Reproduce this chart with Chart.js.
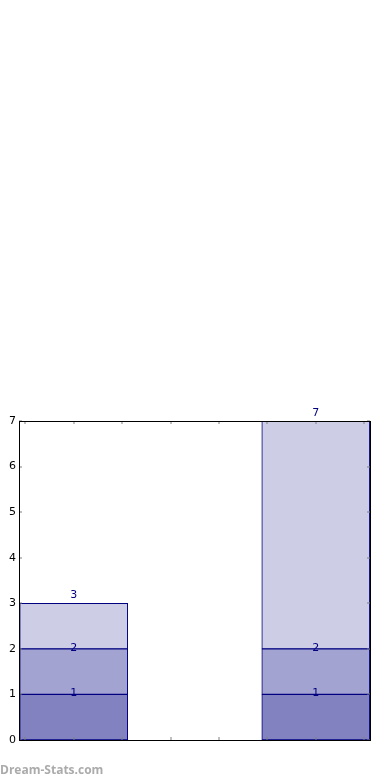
<!DOCTYPE html>
<html>
<head>
<meta charset="utf-8">
<script src="https://cdn.jsdelivr.net/npm/chart.js@4/dist/chart.umd.min.js"></script>
<style>
  html, body { margin: 0; padding: 0; background: #ffffff; }
  #wrap { position: relative; width: 390px; height: 780px; }
  #mark { position: absolute; left: 0; top: 761px; font: bold 12px "Open Sans", "DejaVu Sans", sans-serif; color: #ababab; }
</style>
</head>
<body>
<div id="wrap">
  <canvas id="c" width="390" height="780"></canvas>
  <div id="mark">Dream-Stats.com</div>
</div>
<script>
// Data
const barPositions = [0, 5];
const segmentBottom = [1, 1];
const segmentMiddle = [1, 1];
const segmentTop = [1, 5];
const yTickValues = [0, 1, 2, 3, 4, 5, 6, 7];

const segColors = ['#8282c1', '#a3a3d1', '#cdcde5'];
const segments = [segmentBottom, segmentMiddle, segmentTop];

const datasets = segments.map((seg, i) => ({
  label: 'seg' + i,
  data: barPositions.map((x, j) => ({ x: x, y: seg[j] })),
  backgroundColor: segColors[i],
  borderColor: '#000080',
  borderWidth: 1,
  borderSkipped: false,
  barThickness: 108
}));

const decorPlugin = {
  id: 'decor',
  afterDatasetsDraw(chart) {
    const ctx = chart.ctx;
    const a = chart.chartArea;
    const xs = chart.scales.x, ys = chart.scales.y;
    // value labels (cumulative)
    ctx.save();
    ctx.font = '11px "DejaVu Sans"';
    ctx.fillStyle = '#000080';
    ctx.textAlign = 'center';
    ctx.textBaseline = 'alphabetic';
    const last = chart.data.datasets.length - 1;
    chart.data.datasets.forEach((ds, di) => {
      const meta = chart.getDatasetMeta(di);
      meta.data.forEach((el, j) => {
        let cum = 0;
        for (let k = 0; k <= di; k++) cum += segments[k][j];
        const y = ys.getPixelForValue(cum);
        const ty = di === last ? y - 5 : y + 2;
        ctx.fillText(String(cum), el.x, ty);
      });
    });
    ctx.restore();
    // inward tick marks
    ctx.save();
    ctx.strokeStyle = 'rgba(128,128,128,0.5)';
    ctx.lineWidth = 2;
    ctx.beginPath();
    xs.ticks.forEach(t => {
      const px = Math.round(xs.getPixelForValue(t.value));
      ctx.moveTo(px, a.bottom); ctx.lineTo(px, a.bottom - 3);
      ctx.moveTo(px, a.top); ctx.lineTo(px, a.top + 3);
    });
    ys.ticks.forEach(t => {
      const py = Math.round(ys.getPixelForValue(t.value));
      ctx.moveTo(a.left, py); ctx.lineTo(a.left + 3, py);
      ctx.moveTo(a.right, py); ctx.lineTo(a.right - 3, py);
    });
    ctx.stroke();
    ctx.restore();
    // frame
    ctx.save();
    ctx.strokeStyle = '#000000';
    ctx.lineWidth = 1;
    ctx.strokeRect(Math.round(a.left) + 0.5, Math.round(a.top) + 0.5,
                   Math.round(a.right - a.left), Math.round(a.bottom - a.top));
    ctx.restore();
  }
};

new Chart(document.getElementById('c'), {
  type: 'bar',
  data: { datasets: datasets },
  options: {
    responsive: false,
    animation: false,
    layout: { padding: { top: 421, bottom: 40, left: 0, right: 20 } },
    plugins: { legend: { display: false }, tooltip: { enabled: false } },
    scales: {
      x: {
        type: 'linear',
        stacked: true,
        display: false,
        offset: false,
        min: -1.13,
        max: 6.12,
        grid: { offset: false },
        ticks: { stepSize: 1, includeBounds: false }
      },
      y: {
        stacked: true,
        min: 0,
        max: 7,
        afterFit: (s) => { s.width = 19; },
        afterBuildTicks: (s) => { s.ticks = yTickValues.map(v => ({ value: v })); },
        grid: { display: false, drawTicks: false },
        border: { display: false },
        ticks: {
          padding: 3,
          color: '#000000',
          font: { family: 'DejaVu Sans', size: 11 }
        }
      }
    }
  },
  plugins: [decorPlugin]
});
</script>
</body>
</html>
